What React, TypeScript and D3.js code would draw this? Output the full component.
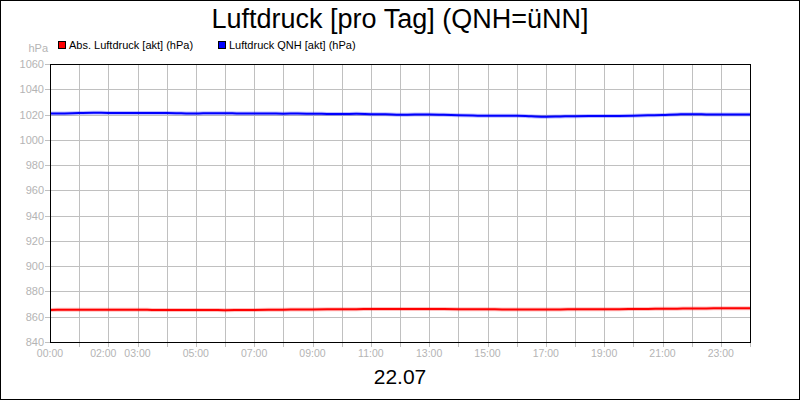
import { useEffect, useRef } from 'react'
import * as d3 from 'd3'

// half-hourly readings, 00:00 .. 24:00
const HOURS = d3.range(0, 24.5, 0.5)
const QNH = [
  1020.8, 1020.9, 1021.2, 1021.4, 1021.3, 1021.3, 1021.3, 1021.3, 1021.2, 1021.0,
  1020.8, 1021.1, 1021.1, 1020.8, 1020.8, 1020.8, 1020.7, 1020.8, 1020.6, 1020.5,
  1020.4, 1020.6, 1020.3, 1020.2, 1019.8, 1020.0, 1020.0, 1019.8, 1019.4, 1019.2,
  1019.0, 1019.1, 1019.0, 1018.6, 1018.3, 1018.5, 1018.7, 1018.8, 1018.8, 1018.9,
  1019.1, 1019.4, 1019.6, 1020.1, 1020.2, 1020.1, 1020.0, 1020.1, 1020.1,
]
const ABS = [
  865.4, 865.5, 865.6, 865.6, 865.6, 865.5, 865.5, 865.4, 865.3, 865.3,
  865.3, 865.3, 865.2, 865.3, 865.4, 865.5, 865.6, 865.7, 865.8, 865.9,
  866.0, 866.0, 866.1, 866.1, 866.2, 866.2, 866.2, 866.1, 866.0, 865.9,
  865.9, 865.8, 865.8, 865.8, 865.8, 865.8, 865.9, 865.9, 866.0, 866.0,
  866.1, 866.2, 866.3, 866.4, 866.6, 866.6, 866.7, 866.7, 866.7,
]
const Y_TICKS = d3.range(840, 1061, 20)
const X_LABELS = [0, 2, 3, 5, 7, 9, 11, 13, 15, 17, 19, 21, 23]

const SERIES = [
  { label: 'Abs. Luftdruck [akt] (hPa)', values: ABS, color: '#ff0000' },
  { label: 'Luftdruck QNH [akt] (hPa)', values: QNH, color: '#0000ff' },
]

const W = 800
const H = 400
const FONT = '"Liberation Sans", Arial, sans-serif'
const GRAY = '#b4b4b4'

export default function App() {
  const ref = useRef<SVGSVGElement>(null)

  useEffect(() => {
    if (!ref.current) return
    const svg = d3.select(ref.current)
    svg.selectAll('*').remove()

    const left = 50, right = 750, top = 64, bottom = 342
    const x = d3.scaleLinear().domain([0, 24]).range([left, right])
    const y = d3.scaleLinear().domain([840, 1060]).range([bottom, top])

    svg.append('rect')
      .attr('x', 0.5).attr('y', 0.5).attr('width', W - 1).attr('height', H - 1)
      .attr('fill', '#fff').attr('stroke', '#000')

    // grid
    const grid = svg.append('g').attr('stroke', '#c0c0c0').attr('stroke-width', 1)
    d3.range(1, 24).forEach(h => {
      const px = Math.round(x(h)) + 0.5
      grid.append('line').attr('x1', px).attr('x2', px).attr('y1', top).attr('y2', bottom + 5)
    })
    grid.append('line').attr('x1', right + 0.5).attr('x2', right + 0.5).attr('y1', bottom).attr('y2', bottom + 5)
    Y_TICKS.forEach(v => {
      const py = Math.round(y(v)) + 0.5
      grid.append('line').attr('x1', left - 5).attr('x2', right).attr('y1', py).attr('y2', py)
    })

    // y labels
    svg.append('g').selectAll('text').data(Y_TICKS).enter().append('text')
      .attr('x', 44).attr('y', d => Math.round(y(d)) + 4)
      .attr('text-anchor', 'end')
      .attr('font-family', FONT).attr('font-size', 11).attr('fill', GRAY)
      .text(d => d)
    svg.append('text')
      .attr('x', 48).attr('y', 52).attr('text-anchor', 'end')
      .attr('font-family', FONT).attr('font-size', 11).attr('fill', GRAY)
      .text('hPa')

    // x labels; a label crowded by the next one is pushed left
    svg.append('g').selectAll('text').data(X_LABELS).enter().append('text')
      .attr('x', (d, i) => x(d) - (X_LABELS[i + 1] === d + 1 ? 5 : 0)).attr('y', 357)
      .attr('text-anchor', 'middle')
      .attr('font-family', FONT).attr('font-size', 10.5).attr('fill', GRAY)
      .text(d => d3.format('02')(d) + ':00')

    // lines
    const line = d3.line<number>()
      .x((_, i) => x(HOURS[i]))
      .y(d => y(d))
      .curve(d3.curveMonotoneX)
    SERIES.forEach(s => {
      svg.append('path').attr('d', line(s.values))
        .attr('fill', 'none').attr('stroke', s.color)
        .attr('stroke-opacity', 0.25).attr('stroke-width', 4)
      svg.append('path').attr('d', line(s.values))
        .attr('fill', 'none').attr('stroke', s.color).attr('stroke-width', 2)
    })

    // plot frame
    svg.append('rect')
      .attr('x', left + 0.5).attr('y', top + 0.5)
      .attr('width', right - left).attr('height', bottom - top)
      .attr('fill', 'none').attr('stroke', '#000')

    // legend
    const legendX = [58, 218]
    SERIES.forEach((s, i) => {
      svg.append('rect')
        .attr('x', legendX[i] + 0.5).attr('y', 41.5).attr('width', 7).attr('height', 7)
        .attr('fill', s.color).attr('stroke', '#000')
      svg.append('text')
        .attr('x', legendX[i] + 11).attr('y', 49)
        .attr('font-family', FONT).attr('font-size', 11).attr('fill', '#000')
        .text(s.label)
    })

    svg.append('text')
      .attr('x', W / 2).attr('y', 28).attr('text-anchor', 'middle')
      .attr('font-family', FONT).attr('font-size', 27).attr('fill', '#000')
      .text('Luftdruck [pro Tag] (QNH=üNN]')

    svg.append('text')
      .attr('x', W / 2).attr('y', 384).attr('text-anchor', 'middle')
      .attr('font-family', FONT).attr('font-size', 21).attr('fill', '#000')
      .text('22.07')
  }, [])

  return (
    <svg ref={ref} width={W} height={H}
      style={{ display: 'block', position: 'absolute', left: 0, top: 0 }} />
  )
}
